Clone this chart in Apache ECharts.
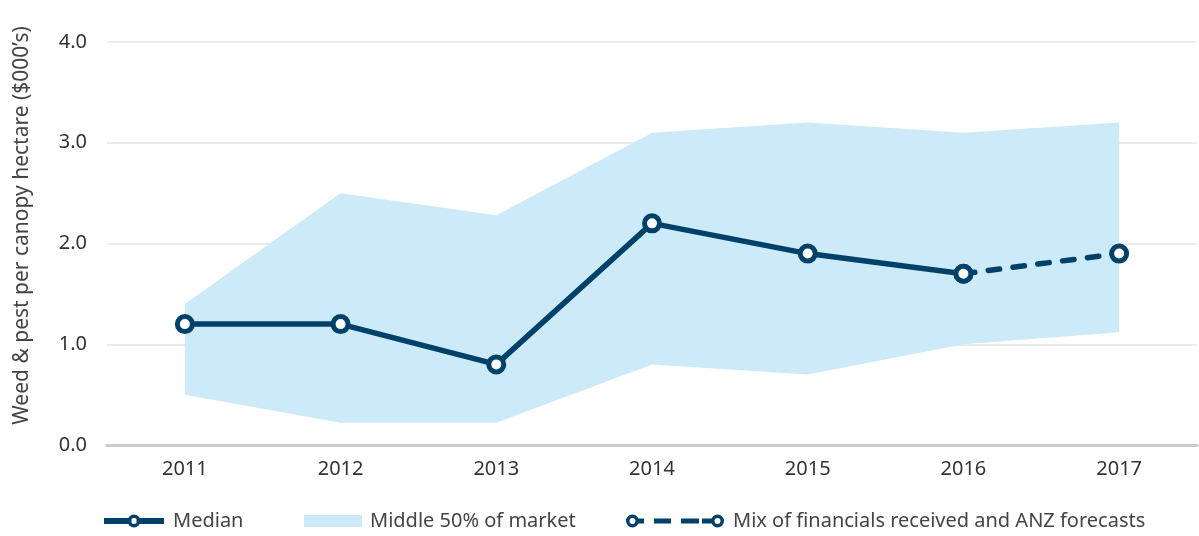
<!DOCTYPE html>
<html>
<head>
<meta charset="utf-8">
<script src="https://cdn.jsdelivr.net/npm/echarts@6/dist/echarts.min.js"></script>
<style>
  html, body { margin: 0; padding: 0; background: #fff; }
  #chart { width: 1199px; height: 536px; }
</style>
</head>
<body>
<div id="chart"></div>
<script>
// chart data
const years = ['2011', '2012', '2013', '2014', '2015', '2016', '2017']
const median = [1.2, 1.2, 0.8, 2.2, 1.9, 1.7, null]
const forecast = [null, null, null, null, null, 1.7, 1.9]
const bandLow = [0.5, 0.22, 0.22, 0.8, 0.7, 1.0, 1.12]
const bandHigh = [1.4, 2.5, 2.28, 3.1, 3.2, 3.1, 3.2]
const yTicks = [0, 1, 2, 3, 4]

const navy = '#00416a'
const band = '#cceaf7'
const font = 'Noto Sans'

const chart = echarts.init(document.getElementById('chart'))

const marker = {
  symbol: 'circle',
  symbolSize: 15,
  itemStyle: { color: '#fff', borderColor: navy, borderWidth: 5 },
}

// legend icons: ring = outer circle clockwise + inner circle counter-clockwise
function ring(cx, cy, r, ri) {
  return `M ${cx - r} ${cy} A ${r} ${r} 0 1 1 ${cx + r} ${cy} A ${r} ${r} 0 1 1 ${cx - r} ${cy} Z ` +
    `M ${cx - ri} ${cy} A ${ri} ${ri} 0 1 0 ${cx + ri} ${cy} A ${ri} ${ri} 0 1 0 ${cx - ri} ${cy} Z `
}
function bar(x0, x1, y0, y1) {
  return `M ${x0} ${y0} L ${x1} ${y0} L ${x1} ${y1} L ${x0} ${y1} Z `
}
const medianIcon = 'path://' + bar(0, 27.5, 3.5, 9.5) + ring(30, 6.5, 6.5, 3) + bar(32.5, 60, 3.5, 9.5)
const forecastIcon = 'path://' + ring(6.5, 6.5, 6.5, 3) + bar(9.5, 18, 4, 9) + bar(28, 45, 4, 9) +
  bar(55, 73, 4, 9) + bar(76, 88.5, 4, 9) + ring(91.5, 6.5, 6.5, 3)

const legendBase = {
  top: 506,
  itemGap: 10,
  textStyle: { fontFamily: font, fontSize: 20, color: '#444', padding: [0, 0, 0, 4] },
  selectedMode: false,
}

const option = {
  animation: false,
  grid: { left: 107, right: 2, top: 42, bottom: 91 },
  legend: [
    {
      ...legendBase, left: 99, itemWidth: 60, itemHeight: 13,
      data: [{ name: 'Median', icon: medianIcon, itemStyle: { color: navy, borderWidth: 0 } }],
    },
    {
      ...legendBase, left: 299, itemWidth: 58, itemHeight: 12,
      textStyle: { ...legendBase.textStyle, padding: [0, 0, 0, 3] },
      data: [{ name: 'Middle 50% of market', icon: 'rect' }],
    },
    {
      ...legendBase, left: 621, itemWidth: 98, itemHeight: 13,
      data: [{
        name: 'Mix of financials received and ANZ forecasts', icon: forecastIcon,
        itemStyle: { color: navy, borderWidth: 0 },
      }],
    },
  ],
  xAxis: {
    type: 'category',
    data: years,
    boundaryGap: true,
    axisLine: { lineStyle: { color: '#cccccc', width: 3 } },
    axisTick: { lineStyle: { color: '#cccccc', width: 2 }, length: 5 },
    axisLabel: { color: '#333', fontFamily: font, fontSize: 20, margin: 14 },
    splitLine: { show: false },
  },
  yAxis: {
    type: 'value',
    min: yTicks[0],
    max: yTicks[yTicks.length - 1],
    interval: 1,
    name: 'Weed & pest per canopy hectare ($000’s)',
    nameLocation: 'middle',
    nameGap: 74,
    nameTextStyle: { color: '#444', fontFamily: font, fontSize: 21, padding: [0, 0, 0, 36] },
    axisLine: { show: false },
    axisTick: { show: false },
    axisLabel: {
      color: '#333', fontFamily: font, fontSize: 20, margin: 20,
      formatter: v => v.toFixed(1),
    },
    splitLine: { lineStyle: { color: '#e4e4e4', width: 1.5 } },
  },
  series: [
    {
      name: 'bandBase',
      type: 'line',
      stack: 'band',
      data: bandLow,
      symbol: 'none',
      lineStyle: { opacity: 0 },
      silent: true,
    },
    {
      name: 'Middle 50% of market',
      type: 'line',
      stack: 'band',
      data: bandHigh.map((h, i) => +(h - bandLow[i]).toFixed(3)),
      symbol: 'none',
      lineStyle: { opacity: 0 },
      itemStyle: { color: band },
      areaStyle: { color: band, opacity: 1 },
      silent: true,
    },
    {
      name: 'Mix of financials received and ANZ forecasts',
      type: 'line',
      data: forecast,
      ...marker,
      lineStyle: { color: navy, width: 5.5, type: [11.5, 13.5], cap: 'round' },
      z: 3,
    },
    {
      name: 'Median',
      type: 'line',
      data: median,
      ...marker,
      lineStyle: { color: navy, width: 5.5 },
      z: 4,
    },
  ],
}

chart.setOption(option)
window.addEventListener('resize', () => chart.resize())
</script>
</body>
</html>
